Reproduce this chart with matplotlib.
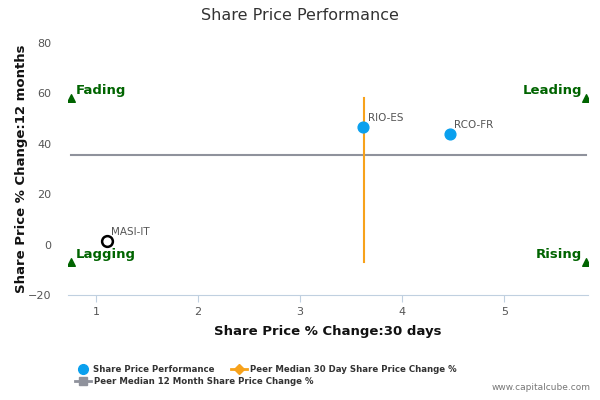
import matplotlib
matplotlib.use("Agg")
import matplotlib.pyplot as plt
from matplotlib.lines import Line2D

companies = ["MASI-IT", "RIO-ES", "RCO-FR"]
x_30d = [1.11, 3.62, 4.47]
y_12m = [1.6, 46.8, 44.0]
hollow = [True, False, False]

peer_median_30d = 3.63
peer_median_12m = 35.7
x_span = [0.76, 5.8]
y_span = [-7.0, 58.0]

quadrants = ["Fading", "Leading", "Lagging", "Rising"]
quad_x = [0.76, 5.8, 0.76, 5.8]
quad_y = [58.0, 58.0, -7.0, -7.0]

xticks = [1, 2, 3, 4, 5]
yticks = [-20, 0, 20, 40, 60, 80]

fig = plt.figure(figsize=(6, 4), dpi=100)
ax = fig.add_axes([0.113, 0.2625, 0.867, 0.63])

ax.plot(x_span, [peer_median_12m]*2, color="#8f929c", lw=1.5, zorder=2)
ax.plot([peer_median_30d]*2, y_span, color="#f7a21b", lw=1.5, zorder=2)

for name, xv, yv, h in zip(companies, x_30d, y_12m, hollow):
    if h:
        ax.scatter([xv], [yv], s=60, facecolor="white", edgecolor="black", linewidth=1.8, zorder=4)
    else:
        ax.scatter([xv], [yv], s=60, color="#0aa0ee", zorder=4)
    ax.annotate(name, (xv, yv), xytext=(3, 4), textcoords="offset points",
                fontsize=7.5, color="#555555")

green = "#006400"
ax.scatter(quad_x, quad_y, marker="^", s=30, color=green, zorder=3)
for q, qx, qy in zip(quadrants, quad_x, quad_y):
    if qx < 3:
        ax.annotate(q, (qx, qy), xytext=(3, 1), textcoords="offset points",
                    fontsize=9.5, fontweight="bold", color=green, ha="left", va="bottom")
    else:
        ax.annotate(q, (qx, qy), xytext=(-3, 1), textcoords="offset points",
                    fontsize=9.5, fontweight="bold", color=green, ha="right", va="bottom")

ax.set_xlim(0.725, 5.82)
ax.set_ylim(-20, 80)
ax.set_xticks(xticks)
ax.set_yticks(yticks)
ax.tick_params(axis="x", colors="#c0d0e0", labelcolor="#555555", labelsize=8, length=5, direction="out")
ax.tick_params(axis="y", length=0, labelcolor="#555555", labelsize=8, pad=12)
for s in ["left", "right", "top"]:
    ax.spines[s].set_visible(False)
ax.spines["bottom"].set_color("#c0d0e0")

ax.set_xlabel("Share Price % Change:30 days", fontsize=9.5, fontweight="bold", color="#111111", labelpad=6)
ax.set_ylabel("Share Price % Change:12 months", fontsize=9.5, fontweight="bold", color="#111111", labelpad=0)
fig.text(0.5, 0.96, "Share Price Performance", ha="center", va="center", fontsize=11.5, color="#333333")

# legend drawn manually to mimic row-wise flow
def fx(px):
    return px / 600.0

def fy(py):
    return 1 - py / 400.0

leg_items = [
    ("Share Price Performance", 83, 369, dict(marker="o", color="#0aa0ee", markersize=7), None),
    ("Peer Median 30 Day Share Price Change %", 239, 369, dict(marker="D", color="#f7a21b", markersize=5), (231, 247)),
    ("Peer Median 12 Month Share Price Change %", 83, 381, dict(marker="s", color="#8f929c", markersize=6), (75, 91)),
]
for label, px, py, style, span in leg_items:
    if span is not None:
        fig.add_artist(Line2D([fx(span[0]), fx(span[1])], [fy(py), fy(py)], color=style["color"], lw=2,
                              transform=fig.transFigure))
    fig.add_artist(Line2D([fx(px)], [fy(py)], transform=fig.transFigure, lw=0, **style))
    fig.text(fx(px + 10 if span is None else span[1] + 3), fy(py), label, ha="left", va="center",
             fontsize=6.2, fontweight="bold", color="#333333")

fig.text(0.985, 0.02, "www.capitalcube.com", ha="right", va="bottom", fontsize=6.5, color="#777777")

fig.savefig("out.png", dpi=100)
